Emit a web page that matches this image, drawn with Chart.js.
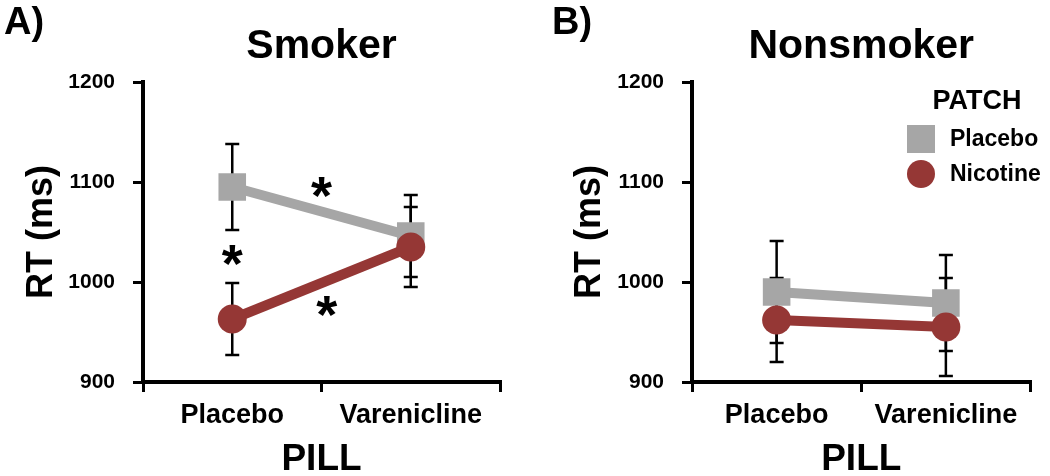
<!DOCTYPE html>
<html><head><meta charset="utf-8">
<script src="https://cdn.jsdelivr.net/npm/chart.js@4.4.0/dist/chart.umd.min.js"></script>
<style>
html,body{margin:0;padding:0;background:#fff;overflow:hidden;}
#wrap{position:relative;width:1050px;height:476px;background:#fff;}
canvas{position:absolute;top:0;}
</style></head><body>
<div id="wrap">
<canvas id="cA" width="525" height="476" style="left:0px"></canvas>
<canvas id="cB" width="525" height="476" style="left:525px"></canvas>
</div>
<script>
// ---- data ----
const pillCategories = ['Placebo', 'Varenicline'];
const yTicks = [900, 1000, 1100, 1200];
const patchLabels = ['Placebo', 'Nicotine'];
const panelTitles = ['Smoker', 'Nonsmoker'];
const panelLetters = ['A)', 'B)'];
const smokerPlacebo = [1095, 1046];
const smokerPlaceboErr = [43, 41];
const smokerNicotine = [963, 1035];
const smokerNicotineErr = [36, 40];
const nonsmokerPlacebo = [990, 979];
const nonsmokerPlaceboErr = [51, 48];
const nonsmokerNicotine = [962, 955];
const nonsmokerNicotineErr = [42, 49];
const smokerAsteriskX = [0.5, 0, 0.53];
const smokerAsteriskY = [1095, 1027, 976];

const FONT = '"Liberation Sans", Arial, Helvetica, sans-serif';
const GRAY = '#A6A6A6';
const RED = '#953735';

const errorBarPlugin = {
  id: 'errorBars',
  beforeDatasetsDraw(chart) {
    const {ctx, scales: {x, y}} = chart;
    ctx.save();
    ctx.strokeStyle = '#000';
    ctx.lineWidth = 2.5;
    chart.data.datasets.forEach(ds => {
      ds.data.forEach((v, i) => {
        const e = ds.errors[i];
        const px = x.getPixelForValue(i);
        const top = y.getPixelForValue(v + e), bot = y.getPixelForValue(v - e);
        ctx.beginPath();
        ctx.moveTo(px, top); ctx.lineTo(px, bot);
        ctx.moveTo(px - 7, top); ctx.lineTo(px + 7, top);
        ctx.moveTo(px - 7, bot); ctx.lineTo(px + 7, bot);
        ctx.stroke();
      });
    });
    ctx.restore();
  }
};

const annotPlugin = {
  id: 'annot',
  afterDraw(chart, args, opts) {
    const {ctx, scales: {x, y}} = chart;
    ctx.save();
    ctx.fillStyle = '#000';
    // panel letter
    ctx.font = 'bold 38px ' + FONT;
    ctx.textAlign = 'left';
    ctx.textBaseline = 'alphabetic';
    ctx.fillText(opts.letter, opts.letterX, 34);
    // asterisks
    if (opts.starX) {
      ctx.font = 'bold 54px ' + FONT;
      ctx.textAlign = 'center';
      const m = ctx.measureText('*');
      opts.starX.forEach((sx, i) => {
        const px = x.getPixelForValue(sx);
        const py = y.getPixelForValue(opts.starY[i]);
        ctx.fillText('*', px, py + m.actualBoundingBoxAscent - (m.actualBoundingBoxAscent + m.actualBoundingBoxDescent) / 2);
      });
    }
    // legend
    if (opts.legend) {
      const L = opts.legend;
      ctx.textAlign = 'center';
      ctx.textBaseline = 'middle';
      ctx.font = 'bold 27px ' + FONT;
      ctx.fillText('PATCH', L.titleX, L.titleY);
      ctx.font = 'bold 23px ' + FONT;
      ctx.textAlign = 'left';
      chart.data.datasets.forEach((ds, i) => {
        const cy = L.itemY[i];
        ctx.fillStyle = ds.borderColor;
        ctx.beginPath();
        if (ds.pointStyle === 'rect') {
          ctx.rect(L.markerX - 14, cy - 14, 28, 28);
        } else {
          ctx.arc(L.markerX, cy, 14, 0, Math.PI * 2);
        }
        ctx.fill();
        ctx.fillStyle = '#000';
        ctx.fillText(ds.label, L.textX, cy + 1);
      });
    }
    ctx.restore();
  }
};

function makeChart(id, title, placebo, placeboErr, nicotine, nicotineErr, yWidth, yTitlePad, rightPad, annot) {
  return new Chart(document.getElementById(id), {
    type: 'line',
    data: {
      labels: pillCategories,
      datasets: [
        {label: patchLabels[0], data: placebo, errors: placeboErr, borderColor: GRAY, backgroundColor: GRAY,
         pointBackgroundColor: GRAY, pointBorderColor: GRAY, pointBorderWidth: 0, pointStyle: 'rect',
         pointRadius: 19.5, borderWidth: 10, tension: 0, order: 1},
        {label: patchLabels[1], data: nicotine, errors: nicotineErr, borderColor: RED, backgroundColor: RED,
         pointBackgroundColor: RED, pointBorderColor: RED, pointBorderWidth: 0, pointStyle: 'circle',
         pointRadius: 14.5, borderWidth: 10, tension: 0, order: 0}
      ]
    },
    options: {
      responsive: false,
      animation: false,
      devicePixelRatio: 1,
      layout: {padding: {left: 0, right: rightPad, top: 0, bottom: 0}},
      plugins: {
        legend: {display: false},
        tooltip: {enabled: false},
        title: {display: true, text: title, fullSize: false, color: '#000',
                font: {family: FONT, size: 41, weight: 'bold', lineHeight: 1},
                padding: {top: 26.5, bottom: 14.5}},
        annot: annot
      },
      scales: {
        x: {
          type: 'category',
          offset: true,
          afterFit(s) { s.height = 94; },
          border: {display: true, color: '#000', width: 4},
          grid: {display: true, offset: true, drawOnChartArea: false, drawTicks: true, tickLength: 10, color: '#000', lineWidth: 3},
          ticks: {color: '#000', padding: 7, font: {family: FONT, size: 27, weight: 'bold'}, maxRotation: 0},
          title: {display: true, text: 'PILL', color: '#000', font: {family: FONT, size: 37, weight: 'bold', lineHeight: 0.8}, padding: {top: 0, bottom: 1}}
        },
        y: {
          min: yTicks[0], max: yTicks[yTicks.length - 1],
          afterFit(s) { s.width = yWidth; },
          afterBuildTicks(s) { s.ticks = yTicks.map(v => ({value: v})); },
          border: {display: true, color: '#000', width: 4},
          grid: {display: true, drawOnChartArea: false, drawTicks: true, tickLength: 10, color: '#000', lineWidth: 3},
          ticks: {color: '#000', padding: 18, font: {family: FONT, size: 21, weight: 'bold'}, callback: v => String(v)},
          title: {display: true, text: 'RT (ms)', color: '#000', font: {family: FONT, size: 36, weight: 'bold', lineHeight: 1}, padding: {top: yTitlePad, bottom: 0}}
        }
      }
    },
    plugins: [errorBarPlugin, annotPlugin]
  });
}

makeChart('cA', panelTitles[0], smokerPlacebo, smokerPlaceboErr, smokerNicotine, smokerNicotineErr, 143, 24, 25,
  {letter: panelLetters[0], letterX: 4, starX: smokerAsteriskX, starY: smokerAsteriskY});
makeChart('cB', panelTitles[1], nonsmokerPlacebo, nonsmokerPlaceboErr, nonsmokerNicotine, nonsmokerNicotineErr, 167, 47, 7,
  {letter: panelLetters[1], letterX: 27, legend: {titleX: 452, titleY: 102, markerX: 396, textX: 425, itemY: [139, 174]}});
</script>
</body></html>
